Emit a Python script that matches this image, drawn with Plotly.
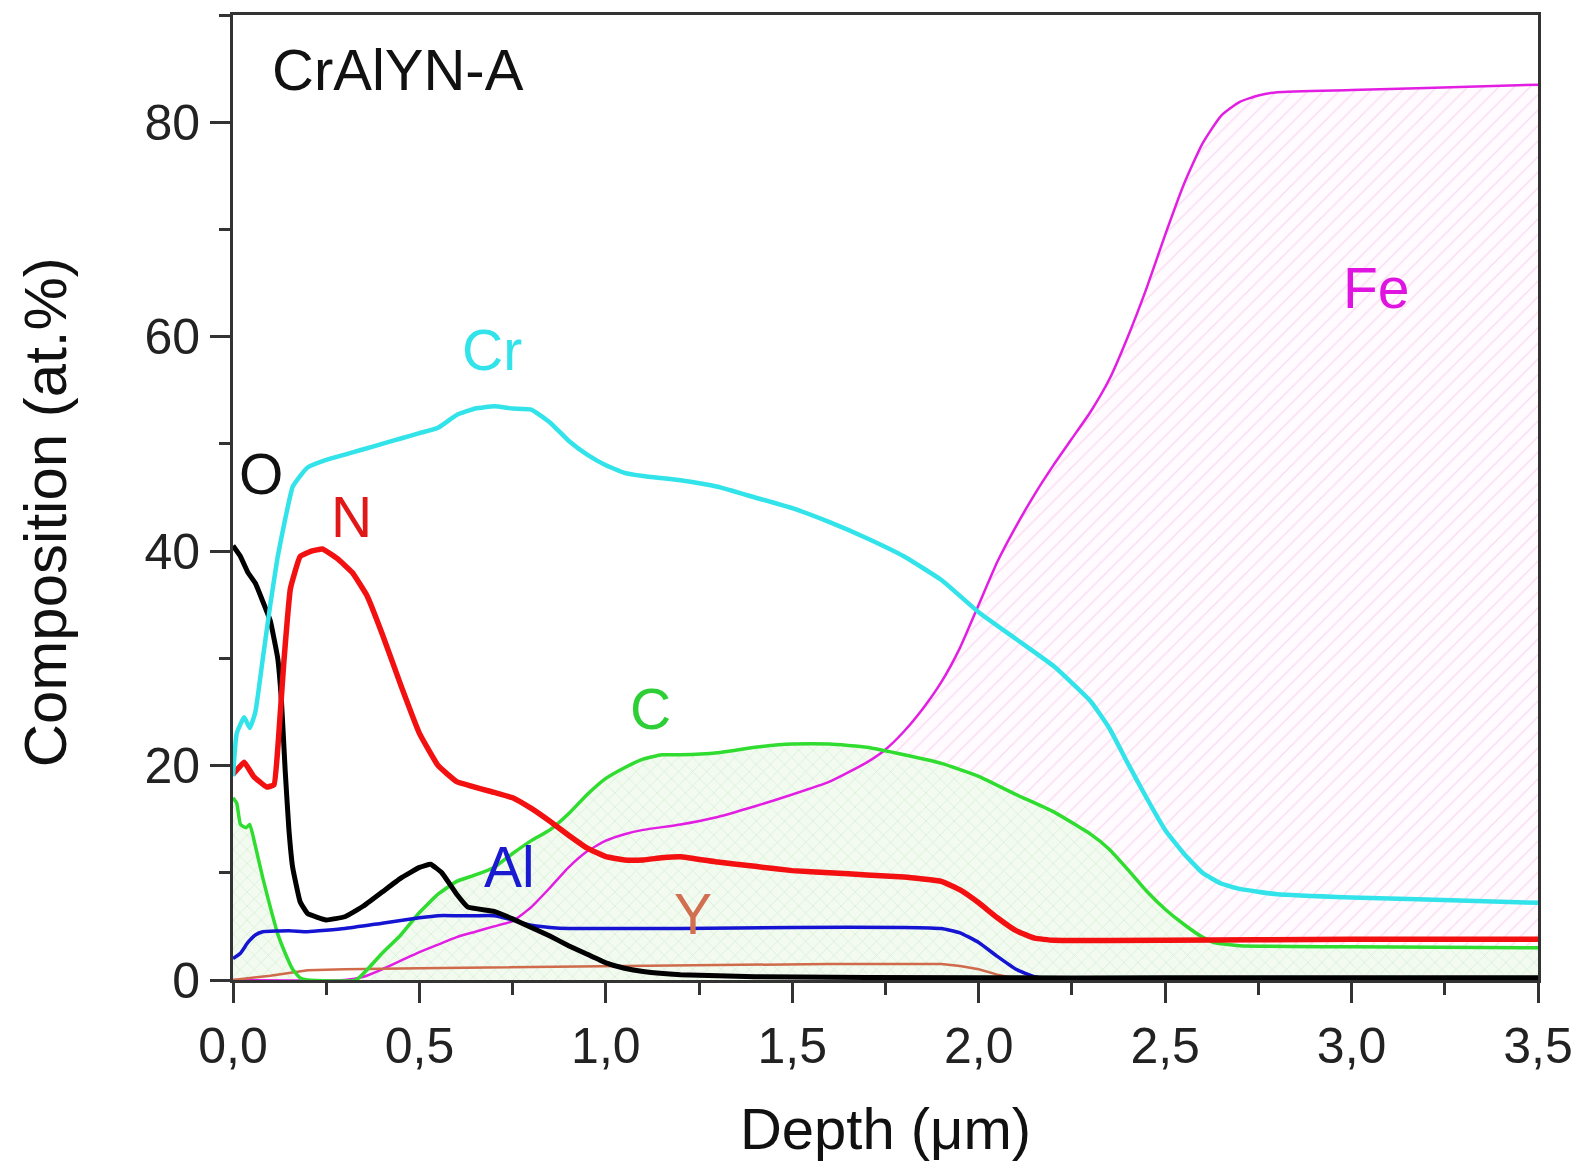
import plotly.graph_objects as go

# ---------------- data ----------------
cr_x = [0, 0.01, 0.03, 0.045, 0.06, 0.08, 0.10, 0.12, 0.14, 0.16, 0.18, 0.20, 0.25, 0.30, 0.35, 0.40,
        0.45, 0.50, 0.55, 0.60, 0.65, 0.70, 0.75, 0.80, 0.85, 0.90, 0.95, 1.00, 1.05, 1.10, 1.20,
        1.30, 1.40, 1.50, 1.60, 1.70, 1.80, 1.90, 2.00, 2.10, 2.20, 2.30, 2.35, 2.40, 2.45, 2.50,
        2.55, 2.60, 2.65, 2.70, 2.80, 3.00, 3.20, 3.50]
cr_y = [19, 23, 24.5, 23.5, 25, 30, 35, 39.5, 43, 46, 47, 47.8, 48.5, 49, 49.5, 50,
        50.5, 51, 51.5, 52.7, 53.3, 53.5, 53.3, 53.2, 52, 50.3, 49, 48, 47.3, 47, 46.6,
        46, 45, 44, 42.7, 41.2, 39.5, 37.3, 34.3, 31.8, 29.3, 26, 23.5, 20.2, 17, 14,
        11.8, 10, 9, 8.5, 8.0, 7.7, 7.5, 7.2]

n_x = [0, 0.03, 0.055, 0.09, 0.11, 0.122, 0.136, 0.154, 0.18, 0.21, 0.24, 0.28, 0.32, 0.36, 0.40,
       0.45, 0.50, 0.55, 0.60, 0.70, 0.75, 0.80, 0.85, 0.90, 0.95, 1.00, 1.05, 1.10, 1.15, 1.20,
       1.30, 1.40, 1.50, 1.60, 1.70, 1.80, 1.90, 1.95, 2.00, 2.05, 2.10, 2.15, 2.20, 2.50, 3.00, 3.50]
n_y = [19.2, 20.3, 19, 18, 18.2, 22.5, 29.5, 36.5, 39.5, 40, 40.2, 39.3, 38, 35.8, 32.3,
       27.5, 23, 20, 18.5, 17.5, 17, 16, 14.8, 13.5, 12.3, 11.5, 11.2, 11.2, 11.4, 11.5,
       11, 10.6, 10.2, 10, 9.8, 9.6, 9.2, 8.4, 7.2, 5.8, 4.6, 3.9, 3.7, 3.7, 3.8, 3.8]

o_x = [0, 0.02, 0.04, 0.06, 0.08, 0.10, 0.12, 0.13, 0.14, 0.15, 0.16, 0.18, 0.20, 0.25, 0.30,
       0.35, 0.40, 0.45, 0.50, 0.53, 0.56, 0.60, 0.63, 0.70, 0.75, 0.80, 0.85, 0.90, 0.95, 1.00,
       1.05, 1.10, 1.20, 1.40, 2.00, 2.50, 3.50]
o_y = [40.5, 39.5, 38, 37, 35.3, 33.5, 30, 26, 19.5, 14, 10.5, 7.3, 6.2, 5.6, 5.9,
       6.9, 8.2, 9.5, 10.5, 10.8, 10, 8, 6.8, 6.4, 5.7, 4.9, 4.1, 3.2, 2.4, 1.6,
       1.1, 0.8, 0.5, 0.3, 0.2, 0.2, 0.2]

c_x = [0, 0.01, 0.02, 0.035, 0.045, 0.06, 0.08, 0.10, 0.12, 0.14, 0.16, 0.18, 0.20, 0.33, 0.40,
       0.45, 0.50, 0.55, 0.60, 0.65, 0.70, 0.75, 0.80, 0.85, 0.90, 0.95, 1.00, 1.05, 1.10, 1.15,
       1.20, 1.30, 1.40, 1.50, 1.60, 1.70, 1.80, 1.90, 2.00, 2.10, 2.20, 2.30, 2.35, 2.40, 2.45,
       2.50, 2.55, 2.60, 2.63, 2.70, 3.00, 3.50]
c_y = [17, 16.5, 14.5, 14.2, 14.5, 12.5, 9.5, 6.8, 4.3, 2.5, 1, 0.2, 0, 0, 2.5,
       4.2, 6.3, 8, 9.2, 9.8, 10.5, 11.8, 13, 14, 15.5, 17.3, 18.8, 19.8, 20.6, 21,
       21, 21.2, 21.7, 22, 22, 21.7, 21, 20.2, 19, 17.3, 15.7, 13.6, 12.2, 10.3, 8.3,
       6.6, 5.2, 4, 3.5, 3.2, 3.1, 3.0]

al_x = [0, 0.02, 0.04, 0.06, 0.08, 0.15, 0.20, 0.30, 0.40, 0.50, 0.55, 0.60, 0.65, 0.70, 0.75,
        0.80, 0.85, 0.90, 1.00, 1.20, 1.50, 1.80, 1.90, 1.95, 2.00, 2.05, 2.10, 2.15, 2.20, 2.30, 3.50]
al_y = [2, 2.5, 3.5, 4.2, 4.5, 4.6, 4.5, 4.8, 5.3, 5.8, 6.0, 6.0, 6.0, 6.0, 5.6,
        5.1, 4.9, 4.8, 4.8, 4.8, 4.9, 4.9, 4.8, 4.4, 3.5, 2.2, 1.0, 0.3, 0.05, 0, 0]

fe_x = [0, 0.30, 0.35, 0.40, 0.45, 0.50, 0.55, 0.60, 0.65, 0.70, 0.75, 0.80, 0.85, 0.90, 0.95,
        1.00, 1.05, 1.10, 1.20, 1.30, 1.40, 1.50, 1.60, 1.70, 1.75, 1.80, 1.85, 1.90, 1.95, 2.00,
        2.05, 2.10, 2.15, 2.20, 2.25, 2.30, 2.35, 2.40, 2.45, 2.50, 2.55, 2.60, 2.65, 2.70, 2.75,
        2.80, 3.00, 3.20, 3.50]
fe_y = [0, 0, 0.3, 1, 1.8, 2.6, 3.3, 4, 4.5, 5, 5.5, 6.8, 8.6, 10.5, 12,
        13, 13.6, 14, 14.5, 15.2, 16.2, 17.3, 18.5, 20.3, 21.5, 23.2, 25.3, 27.8, 31, 35,
        39, 42.3, 45.3, 48, 50.5, 53, 56, 60, 64.5, 69.5, 74.2, 78, 80.6, 81.9, 82.5,
        82.8, 83, 83.2, 83.5]

y_x = [0, 0.10, 0.20, 0.30, 0.50, 0.80, 1.00, 1.30, 1.60, 1.90, 1.95, 2.00, 2.05, 2.10, 2.15, 3.50]
y_y = [0, 0.4, 0.9, 1.0, 1.1, 1.2, 1.3, 1.4, 1.5, 1.5, 1.3, 1.0, 0.5, 0.15, 0, 0]

x_ticks = [0.0, 0.5, 1.0, 1.5, 2.0, 2.5, 3.0, 3.5]
y_ticks = [0, 20, 40, 60, 80]

labels = ["CrAlYN-A", "Fe", "Cr", "O", "N", "C", "Al", "Y"]
label_x = [0.10, 3.067, 0.695, 0.075, 0.318, 1.12, 0.741, 1.233]
label_y = [84.9, 64.5, 58.8, 47.2, 43.2, 25.3, 10.5, 6.2]

# ---------------- styling ----------------
FONT = "Liberation Sans, Arial, Helvetica, sans-serif"
col = {"Cr": "#33e3ea", "N": "#f21010", "O": "#000000", "C": "#2fdc2f",
       "Al": "#1414d2", "Fe": "#e21ee2", "Y": "#cf6a4a"}
label_col = ["#111111", "#e014e0", "#33e3ea", "#111111", "#e01818", "#2ecf36", "#1a1ad0", "#d07050"]

fig = go.Figure()

# hatched fills
fig.add_trace(go.Scatter(x=fe_x, y=fe_y, mode="lines", line=dict(width=0, shape="spline", smoothing=0.5),
                         fill="tozeroy", fillcolor="rgba(0,0,0,0)",
                         fillpattern=dict(shape="/", fgcolor="#f6c0e8", bgcolor="#fffbfe",
                                          size=11, solidity=0.14),
                         hoverinfo="skip", showlegend=False))
fig.add_trace(go.Scatter(x=c_x, y=c_y, mode="lines", line=dict(width=0), fill="tozeroy",
                         fillcolor="rgba(0,0,0,0)",
                         fillpattern=dict(shape="x", fgcolor="#ade0ab", bgcolor="#f3fbf1",
                                          size=10, solidity=0.13),
                         hoverinfo="skip", showlegend=False))

def line(x, y, name, w, smooth=None):
    ln = dict(color=col[name], width=w)
    if smooth:
        ln.update(shape="spline", smoothing=smooth)
    fig.add_trace(go.Scatter(x=x, y=y, mode="lines", name=name, line=ln, showlegend=False))

line(fe_x, fe_y, "Fe", 2.5, 0.5)
line(y_x, y_y, "Y", 2.5)
line(c_x, c_y, "C", 3.5, 0.4)
line(al_x, al_y, "Al", 3.5, 0.4)
line(o_x, o_y, "O", 5, 0.3)
line(n_x, n_y, "N", 5.5, 0.3)
line(cr_x, cr_y, "Cr", 4.5, 0.4)

for t, lx, ly, lc in zip(labels, label_x, label_y, label_col):
    fig.add_annotation(x=lx, y=ly, text=t, showarrow=False,
                       xanchor="left" if t == "CrAlYN-A" else "center", yanchor="middle",
                       font=dict(family=FONT, size=57 if t != "CrAlYN-A" else 58, color=lc))

# y-axis title placed as a rotated annotation (slightly below plot centre, as in the reference)
fig.add_annotation(xref="paper", yref="paper", x=-0.143, y=0.485, text="Composition (at.%)",
                   textangle=-90, showarrow=False, xanchor="center", yanchor="middle",
                   font=dict(family=FONT, size=60, color="#111111"))

axis_common = dict(showline=True, linecolor="#333333", linewidth=3, mirror=True,
                   showgrid=False, zeroline=False, ticks="outside", ticklen=20,
                   tickwidth=3, tickcolor="#333333",
                   tickfont=dict(family=FONT, size=50, color="#222222"))

fig.update_xaxes(range=[0, 3.5], tickvals=x_ticks, tickformat=".1f",
                 minor=dict(ticks="outside", ticklen=12, tickwidth=3, tickcolor="#333333", dtick=0.25),
                 title=dict(text="Depth (μm)", font=dict(family=FONT, size=58, color="#111111"),
                            standoff=36),
                 **axis_common)
fig.update_yaxes(range=[0, 90], tickvals=y_ticks,
                 minor=dict(ticks="outside", ticklen=11, tickwidth=3, tickcolor="#333333", dtick=10),
                 **axis_common)

fig.update_layout(width=1585, height=1169, separators=",.",
                  margin=dict(l=233, r=43, t=12, b=189),
                  paper_bgcolor="white", plot_bgcolor="white",
                  font=dict(family=FONT))

fig.write_html("out.html")
